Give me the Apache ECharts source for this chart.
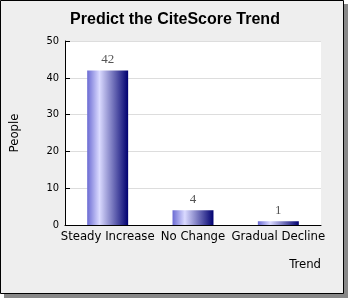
<!DOCTYPE html>
<html>
<head>
<meta charset="utf-8">
<script src="https://cdn.jsdelivr.net/npm/echarts@6/dist/echarts.min.js"></script>
<style>html,body{margin:0;padding:0;background:#fff}#c{width:350px;height:300px}</style>
</head>
<body>
<div id="c"></div>
<script>
var categories = ['Steady Increase', 'No Change', 'Gradual Decline'];
var values = [42, 4, 1];
var yTicks = [0, 10, 20, 30, 40, 50];

var chart = echarts.init(document.getElementById('c'), null, {renderer: 'canvas'});
chart.setOption({
  animation: false,
  backgroundColor: '#fff',
  graphic: [
    {type: 'rect', z: -10, silent: true, shape: {x: 4, y: 4, width: 344, height: 294}, style: {fill: '#888'}},
    {type: 'rect', z: -9, silent: true, shape: {x: 0.5, y: 0.5, width: 343, height: 293}, style: {fill: '#eeeeee', stroke: '#000', lineWidth: 1}},
    {type: 'text', right: 29, top: 258, style: {text: 'Trend', font: '13px "DejaVu Sans Condensed"', fill: '#000', textAlign: 'right'}}
  ],
  title: {
    text: 'Predict the CiteScore Trend',
    left: 'center', top: 7,
    textStyle: {fontFamily: 'Liberation Sans', fontWeight: 'bold', fontSize: 16, color: '#000'}
  },
  grid: {left: 61, top: 41, width: 260, height: 184, show: true, backgroundColor: '#fff', borderWidth: 0},
  xAxis: {
    type: 'category', data: categories,
    axisLine: {lineStyle: {color: '#000', width: 1}},
    axisTick: {inside: true, length: 5, lineStyle: {color: '#000'}},
    axisLabel: {fontFamily: 'DejaVu Sans Condensed', fontSize: 13, color: '#000', margin: 5, interval: 0}
  },
  yAxis: {
    type: 'value', min: 0, max: 50, interval: 10,
    name: 'People', nameLocation: 'middle', nameGap: 44, nameRotate: 90,
    nameTextStyle: {fontFamily: 'DejaVu Sans Condensed', fontSize: 13, color: '#000'},
    axisLine: {show: true, lineStyle: {color: '#000', width: 1}},
    axisTick: {show: true, inside: true, length: 5, lineStyle: {color: '#000'}},
    axisLabel: {fontFamily: 'DejaVu Sans Condensed', fontSize: 11, color: '#000', margin: 6,
      formatter: function (v) { return yTicks.indexOf(v) >= 0 ? String(v) : ''; }},
    splitLine: {lineStyle: {color: '#dddddd', width: 1}}
  },
  series: [{
    type: 'bar', data: values, barWidth: '48%',
    itemStyle: {color: new echarts.graphic.LinearGradient(0, 0, 1, 0, [
      {offset: 0, color: '#6b6bd3'},
      {offset: 0.3, color: '#dadaff'},
      {offset: 1, color: '#000070'}
    ])},
    label: {show: true, position: 'top', distance: 4, fontFamily: 'Liberation Serif', fontSize: 13, color: '#555'}
  }]
});
</script>
</body>
</html>
